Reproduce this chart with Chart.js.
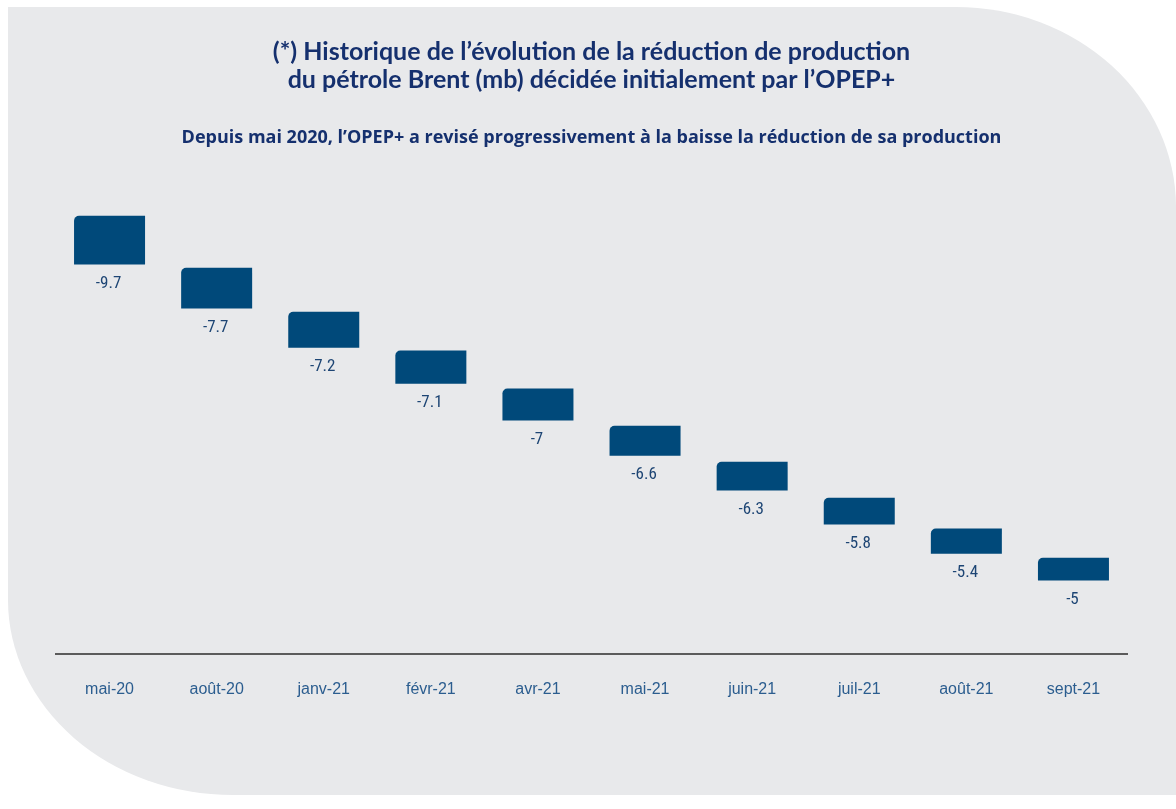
<!DOCTYPE html>
<html lang="fr">
<head>
<meta charset="utf-8">
<title>OPEP+ réduction de production</title>
<script src="https://cdn.jsdelivr.net/npm/chart.js@4/dist/chart.umd.min.js"></script>
<style>
    html, body {
        margin: 0;
        padding: 0;
        background: #ffffff;
    }
    #panel {
        position: absolute;
        left: 8px;
        top: 7px;
        width: 1168px;
        height: 788px;
        background: #e8e9eb;
        border-radius: 0 220px 0 225px / 0 200px 0 195px;
    }
    #wrap {
        position: absolute;
        left: 0;
        top: 0;
        width: 1176px;
        height: 809px;
    }
</style>
</head>
<body>
<div id="panel"></div>
<div id="wrap"><canvas id="myChart"></canvas></div>
<script>
const categories = ['mai-20', 'août-20', 'janv-21', 'févr-21', 'avr-21', 'mai-21', 'juin-21', 'juil-21', 'août-21', 'sept-21'];

// reduction decided (mb), shown under each step
const reductionValues = [-9.7, -7.7, -7.2, -7.1, -7, -6.6, -6.3, -5.8, -5.4, -5];

// staircase steps as drawn, on a hidden 0-12 scale
const stepTop = [10.95, 9.65, 8.55, 7.58, 6.63, 5.7, 4.8, 3.9, 3.13, 2.4];
const stepBottom = [9.73, 8.63, 7.65, 6.75, 5.83, 4.95, 4.08, 3.23, 2.5, 1.83];

const titleLines = [
    '(*) Historique de l’évolution de la réduction de production',
    'du pétrole Brent (mb) décidée initialement par l’OPEP+'
];
const subtitleText = 'Depuis mai 2020, l’OPEP+ a revisé progressivement à la baisse la réduction de sa production';

const navy = '#15306e';
const barColor = '#00497a';

const valueLabelPlugin = {
    id: 'valueLabels',
    afterDatasetsDraw: (chart) => {
        const { ctx } = chart;
        const meta = chart.getDatasetMeta(0);
        ctx.save();
        ctx.fillStyle = '#1d4574';
        ctx.font = '17px "Liberation Sans Narrow", "Roboto Condensed", "Liberation Sans", sans-serif';
        ctx.textAlign = 'center';
        ctx.textBaseline = 'middle';
        meta.data.forEach((bar, i) => {
            const bottom = Math.max(bar.y, bar.base);
            ctx.fillText(String(reductionValues[i]), bar.x - 1, bottom + 19);
        });
        ctx.restore();
    }
};

const ctx = document.getElementById('myChart');

new Chart(ctx, {
    type: 'bar',
    data: {
        labels: categories,
        datasets: [{
            data: categories.map((c, i) => [stepBottom[i], stepTop[i]]),
            backgroundColor: barColor,
            borderRadius: { topLeft: 5, topRight: 0, bottomLeft: 0, bottomRight: 0 },
            borderSkipped: false,
            categoryPercentage: 1,
            barPercentage: 0.663
        }]
    },
    options: {
        responsive: true,
        maintainAspectRatio: false,
        animation: false,
        layout: {
            padding: {
                top: 0,
                left: 56,
                right: 49,
                bottom: 84
            }
        },
        plugins: {
            legend: { display: false },
            tooltip: { enabled: false },
            title: {
                display: true,
                text: titleLines,
                color: navy,
                font: { family: 'Lato', weight: 'bold', size: 25, lineHeight: 1.12 },
                padding: { top: 38, bottom: 34 }
            },
            subtitle: {
                display: true,
                text: subtitleText,
                color: navy,
                font: { family: '"Open Sans"', weight: 'bold', size: 18, lineHeight: 1.1 },
                padding: { top: 0, bottom: 26 }
            }
        },
        scales: {
            x: {
                grid: { display: false, drawTicks: false },
                border: { display: true, color: '#5b5b5b', width: 2 },
                ticks: {
                    color: '#2b5d8f',
                    padding: 26,
                    font: { family: '"Liberation Sans", Arial, sans-serif', size: 16 }
                }
            },
            y: {
                display: false,
                min: 0,
                max: 12
            }
        }
    },
    plugins: [valueLabelPlugin]
});
</script>
</body>
</html>
